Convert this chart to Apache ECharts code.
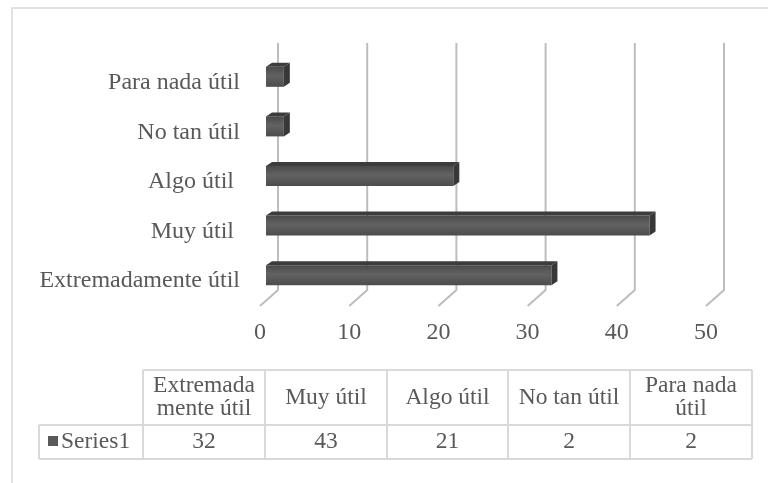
<!DOCTYPE html>
<html>
<head>
    <meta charset="utf-8" />
    <title>Utilidad</title>
    <style>
        html, body { margin: 0; padding: 0; background: #fff; }
    </style>
</head>
<body>
    <div id="divChart" style="width:768px;height:483px;"></div>

    <script src="https://cdn.jsdelivr.net/npm/echarts@6/dist/echarts.min.js"></script>
    <script>
        // datos del grafico
        var categories = ['Extremadamente útil', 'Muy útil ', 'Algo útil ', 'No tan útil', 'Para nada útil'];
        var tableHeaders = ['Extremada\nmente útil', 'Muy útil', 'Algo útil', 'No tan útil', 'Para nada\nútil'];
        var values = [32, 43, 21, 2, 2];
        var seriesName = 'Series1';
        var xTicks = [0, 10, 20, 30, 40, 50];

        var FONT = 'Liberation Serif';
        var TXT = '#595959';
        var LINE = '#d9d9d9';

        var myChart = echarts.init(document.getElementById('divChart'));

        // barras 3D: cara frontal + tapa + lateral
        function renderBar(params, api) {
            var cat = api.value(1), val = api.value(0);
            var p0 = api.coord([0, cat]);
            var p1 = api.coord([val, cat]);
            var h = 20, ox = 6, oy = -6, dx = 6, dy = -4;
            var x0 = p0[0] + ox, x1 = p1[0] + ox, yc = p0[1] + oy;
            var yt = yc - h / 2, yb = yc + h / 2;
            return {
                type: 'group',
                children: [
                    {
                        type: 'rect',
                        shape: { x: x0, y: yt, width: x1 - x0, height: h },
                        style: {
                            fill: new echarts.graphic.LinearGradient(0, 0, 0, 1, [
                                { offset: 0, color: '#4a4a4a' },
                                { offset: 0.45, color: '#626262' },
                                { offset: 1, color: '#4c4c4c' }
                            ])
                        }
                    },
                    {
                        type: 'polygon',
                        shape: { points: [[x0, yt], [x0 + dx, yt + dy], [x1 + dx, yt + dy], [x1, yt]] },
                        style: { fill: '#3c3c3c' }
                    },
                    {
                        type: 'polygon',
                        shape: { points: [[x1, yt], [x1 + dx, yt + dy], [x1 + dx, yb + dy], [x1, yb]] },
                        style: { fill: '#383838' }
                    }
                ]
            };
        }

        // lineas de la pared del fondo y del suelo
        function renderGrid(params, api) {
            var cs = params.coordSys;
            var x = api.coord([api.value(0), 0])[0];
            var top = cs.y - 15, bot = cs.y + cs.height;
            return {
                type: 'polyline',
                shape: { points: [[x + 18, top], [x + 18, bot - 16], [x, bot]] },
                style: { stroke: '#bdbdbd', lineWidth: 2, fill: null }
            };
        }

        // tabla de datos
        var colX = [143, 265, 387, 508, 630, 752];
        var rowY = [370, 425, 459];
        var tableEls = [];
        tableEls.push({ type: 'rect', shape: { x: 12, y: 8, width: 800, height: 520 }, style: { fill: null, stroke: LINE, lineWidth: 1.5 }, silent: true });
        tableEls.push({ type: 'line', shape: { x1: colX[0], y1: rowY[0], x2: colX[5], y2: rowY[0] }, style: { stroke: LINE, lineWidth: 2 } });
        tableEls.push({ type: 'line', shape: { x1: 39, y1: rowY[1], x2: colX[5], y2: rowY[1] }, style: { stroke: LINE, lineWidth: 2 } });
        tableEls.push({ type: 'line', shape: { x1: 39, y1: rowY[2], x2: colX[5], y2: rowY[2] }, style: { stroke: LINE, lineWidth: 2 } });
        tableEls.push({ type: 'line', shape: { x1: 39, y1: rowY[1], x2: 39, y2: rowY[2] }, style: { stroke: LINE, lineWidth: 2 } });
        colX.forEach(function (x) {
            tableEls.push({ type: 'line', shape: { x1: x, y1: rowY[0], x2: x, y2: rowY[2] }, style: { stroke: LINE, lineWidth: 2 } });
        });
        tableHeaders.forEach(function (t, i) {
            var cx = (colX[i] + colX[i + 1]) / 2;
            tableEls.push({
                type: 'text', x: cx, y: (rowY[0] + rowY[1]) / 2,
                style: { text: t, font: '23.5px "' + FONT + '"', fill: TXT, align: 'center', verticalAlign: 'middle', lineHeight: 23 }
            });
            tableEls.push({
                type: 'text', x: cx, y: (rowY[1] + rowY[2]) / 2,
                style: { text: String(values[i]), font: '23.5px "' + FONT + '"', fill: TXT, align: 'center', verticalAlign: 'middle' }
            });
        });
        tableEls.push({ type: 'rect', shape: { x: 48, y: 436, width: 10, height: 10 }, style: { fill: '#595959' } });
        tableEls.push({
            type: 'text', x: 61, y: (rowY[1] + rowY[2]) / 2,
            style: { text: seriesName, font: '23.5px "' + FONT + '"', fill: TXT, align: 'left', verticalAlign: 'middle' }
        });

        var option = {
            animation: false,
            backgroundColor: '#fff',
            grid: { left: 260, right: 62, top: 58, bottom: 177 },
            xAxis: {
                type: 'value', min: 0, max: 50, interval: 10,
                axisLine: { show: false }, axisTick: { show: false }, splitLine: { show: false },
                axisLabel: { fontFamily: FONT, fontSize: 24, color: TXT, margin: 15 }
            },
            yAxis: {
                type: 'category', data: categories,
                axisLine: { show: false }, axisTick: { show: false }, splitLine: { show: false },
                axisLabel: { fontFamily: FONT, fontSize: 24, color: TXT, margin: 20 }
            },
            graphic: tableEls,
            series: [
                {
                    type: 'custom', name: 'grid', renderItem: renderGrid, clip: false, z: 1,
                    encode: { x: 0, y: 1 },
                    data: xTicks.map(function (t) { return [t, 0]; })
                },
                {
                    type: 'custom', name: seriesName, renderItem: renderBar, clip: false, z: 2,
                    encode: { x: 0, y: 1 },
                    data: values.map(function (v, i) { return [v, i]; })
                }
            ]
        };
        myChart.setOption(option);
    </script>
</body>
</html>
